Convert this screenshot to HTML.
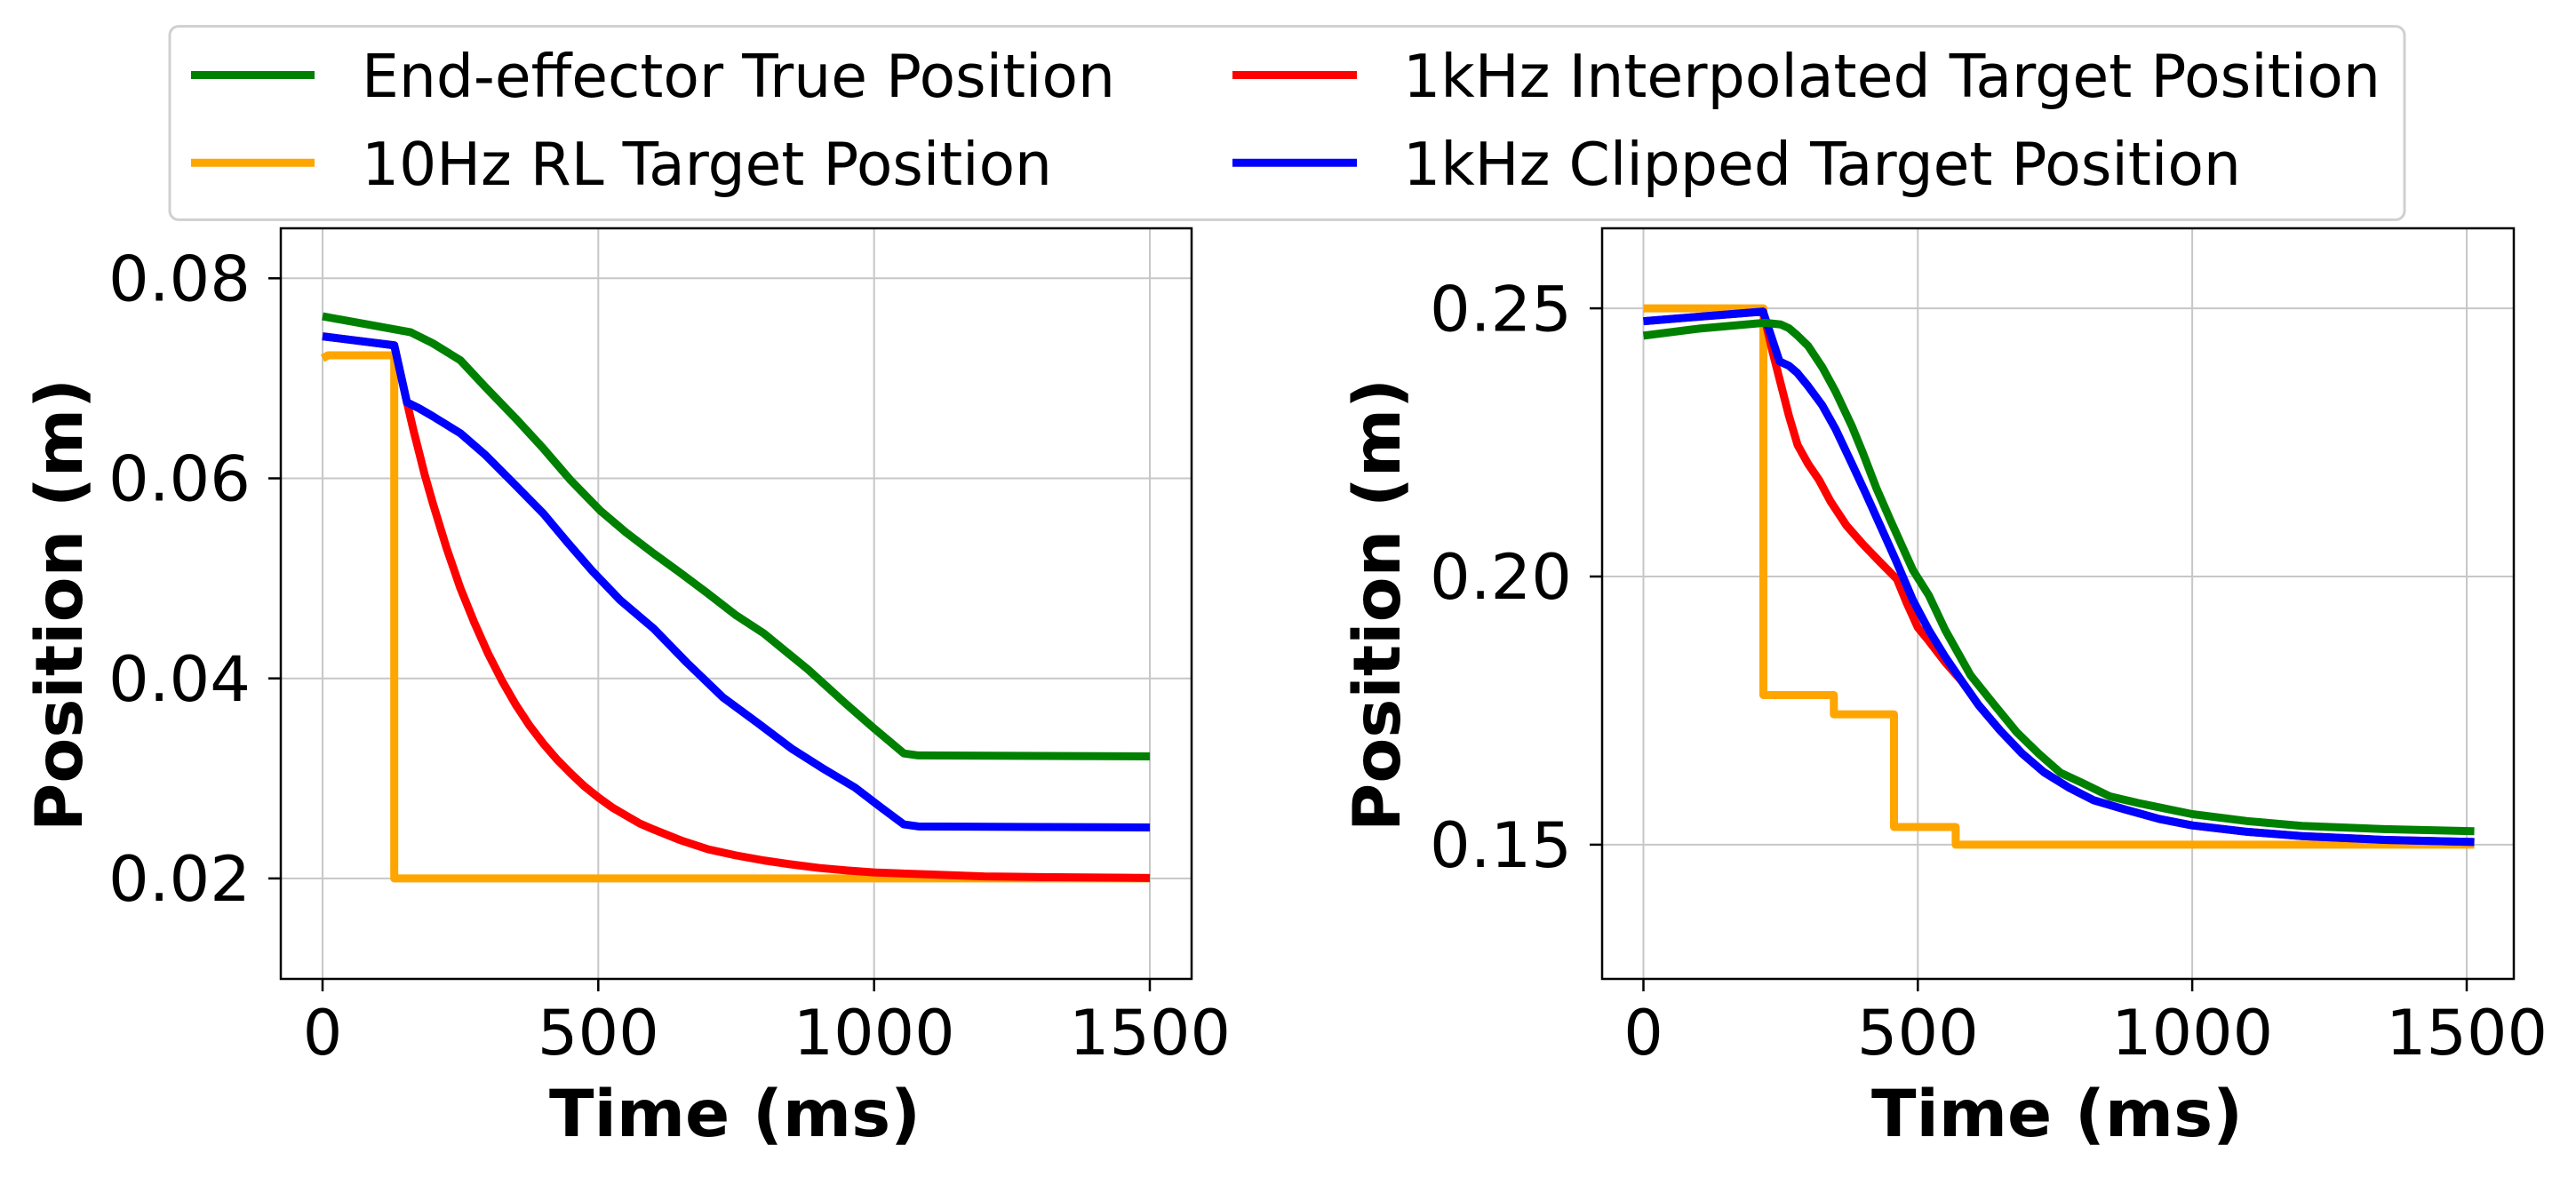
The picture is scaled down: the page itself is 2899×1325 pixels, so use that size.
<!DOCTYPE html>
<html><head><meta charset="utf-8"><style>html,body{margin:0;padding:0;background:#fff}svg{display:block}</style></head>
<body>
<svg width="2899" height="1325" viewBox="0 0 2899 1325" xmlns="http://www.w3.org/2000/svg" font-family="DejaVu Sans, Liberation Sans, sans-serif">
<defs>
<clipPath id="cl"><rect x="316" y="257" width="1025" height="845"/></clipPath>
<clipPath id="cr"><rect x="1803" y="257" width="1026" height="845"/></clipPath>
</defs>
<rect width="2899" height="1325" fill="#fff"/>

<!-- LEFT AXES -->
<g stroke="#b0b0b0" stroke-width="2" opacity="0.7">
<line x1="363" y1="257" x2="363" y2="1102"/><line x1="673.3" y1="257" x2="673.3" y2="1102"/>
<line x1="983.7" y1="257" x2="983.7" y2="1102"/><line x1="1294" y1="257" x2="1294" y2="1102"/>
<line x1="316" y1="313.3" x2="1341" y2="313.3"/><line x1="316" y1="538.5" x2="1341" y2="538.5"/>
<line x1="316" y1="763.7" x2="1341" y2="763.7"/><line x1="316" y1="988.9" x2="1341" y2="988.9"/>
</g>
<g clip-path="url(#cl)" fill="none" stroke-linejoin="round">
<g transform="matrix(0.6207 0 0 -11.26 363 1214.1)">
<polyline vector-effect="non-scaling-stroke" stroke="#ffa500" stroke-width="9" points="0,72.0 10,72.3 130,72.3 130,20 1500,20"/>
<polyline vector-effect="non-scaling-stroke" stroke="#ff0000" stroke-width="9" points="0,74.2 130,73.3 153,67.6 165,64.77 175,62.6 185,60.4 200,57.5 225,53.0 250,49.0 275,45.6 300,42.5 325,39.8 350,37.4 375,35.3 400,33.5 425,31.9 450,30.5 475,29.2 500,28.1 525,27.1 550,26.3 575,25.5 600,24.9 650,23.8 700,22.9 750,22.3 800,21.8 850,21.4 900,21.05 950,20.8 1000,20.6 1100,20.4 1200,20.2 1300,20.14 1500,20.05"/>
<polyline vector-effect="non-scaling-stroke" stroke="#0000ff" stroke-width="9" points="0,74.2 130,73.3 153,67.6 175,67 200,66.2 250,64.5 294,62.4 350,59.3 400,56.5 444,53.6 488,50.8 540,47.8 600,45 660,41.6 726,38.1 790,35.5 850,33 910,30.9 965,29.1 1010,27.2 1054,25.4 1080,25.2 1500,25.1"/>
<polyline vector-effect="non-scaling-stroke" stroke="#008000" stroke-width="9" points="0,76.2 130,74.9 160,74.6 200,73.5 250,71.8 294,69.2 350,66 400,63 450,59.8 503,56.8 550,54.6 600,52.5 650,50.5 696,48.6 750,46.3 800,44.5 880,40.9 950,37.4 1000,35 1054,32.5 1080,32.3 1500,32.2"/>
</g></g>
<rect x="316" y="257" width="1025" height="845" fill="none" stroke="#000" stroke-width="2.5"/>
<g stroke="#000" stroke-width="2.5">
<line x1="302" y1="313.3" x2="316" y2="313.3"/><line x1="302" y1="538.5" x2="316" y2="538.5"/>
<line x1="302" y1="763.7" x2="316" y2="763.7"/><line x1="302" y1="988.9" x2="316" y2="988.9"/>
<line x1="363" y1="1102" x2="363" y2="1116"/><line x1="673.3" y1="1102" x2="673.3" y2="1116"/>
<line x1="983.7" y1="1102" x2="983.7" y2="1116"/><line x1="1294" y1="1102" x2="1294" y2="1116"/>
</g>
<g font-size="70" fill="#000">
<text x="282" y="338.5" text-anchor="end" textLength="160" lengthAdjust="spacingAndGlyphs">0.08</text>
<text x="282" y="563.7" text-anchor="end" textLength="160" lengthAdjust="spacingAndGlyphs">0.06</text>
<text x="282" y="788.9" text-anchor="end" textLength="160" lengthAdjust="spacingAndGlyphs">0.04</text>
<text x="282" y="1014.1" text-anchor="end" textLength="160" lengthAdjust="spacingAndGlyphs">0.02</text>
<text x="363" y="1187" text-anchor="middle">0</text>
<text x="673.3" y="1187" text-anchor="middle" textLength="137" lengthAdjust="spacingAndGlyphs">500</text>
<text x="983.7" y="1187" text-anchor="middle" textLength="182" lengthAdjust="spacingAndGlyphs">1000</text>
<text x="1294" y="1187" text-anchor="middle" textLength="182" lengthAdjust="spacingAndGlyphs">1500</text>
</g>
<text x="827" y="1279" font-size="73" font-weight="bold" text-anchor="middle" textLength="418" lengthAdjust="spacingAndGlyphs">Time (ms)</text>
<text transform="translate(92,681) rotate(-90)" font-size="73" font-weight="bold" text-anchor="middle" textLength="510" lengthAdjust="spacingAndGlyphs">Position (m)</text>

<!-- RIGHT AXES -->
<g stroke="#b0b0b0" stroke-width="2" opacity="0.7">
<line x1="1849.5" y1="257" x2="1849.5" y2="1102"/><line x1="2158.3" y1="257" x2="2158.3" y2="1102"/>
<line x1="2467.1" y1="257" x2="2467.1" y2="1102"/><line x1="2776" y1="257" x2="2776" y2="1102"/>
<line x1="1803" y1="347.1" x2="2829" y2="347.1"/><line x1="1803" y1="649" x2="2829" y2="649"/>
<line x1="1803" y1="950.9" x2="2829" y2="950.9"/>
</g>
<g clip-path="url(#cr)" fill="none" stroke-linejoin="round">
<g transform="matrix(0.6176 0 0 -6.038 1849.5 1856.6)">
<polyline vector-effect="non-scaling-stroke" stroke="#ffa500" stroke-width="9" points="0,250 218.6,250 218.6,177.9 347,177.9 347,174.3 456.6,174.3 456.6,153.3 569,153.3 569,150 1514,150"/>
<polyline vector-effect="non-scaling-stroke" stroke="#ff0000" stroke-width="9" points="0,247.6 218,249.4 235,242 250,236 265,230 281,224.5 300,221 320,218 341,214 370,209.5 400,206 432,202.6 462,199.5 480,195 500,190.5 520,188 550,184 580,180.5 611,176 650,171.3 690,167 730,163.5 776,160.6 820,158.3 880,156.5 940,154.8 1000,153.6 1100,152.4 1200,151.6 1350,150.9 1514,150.5"/>
<polyline vector-effect="non-scaling-stroke" stroke="#0000ff" stroke-width="9" points="0,247.6 218,249.4 248,240.1 265,239.3 280,238 300,235.5 326,231.9 350,227.5 380,221 405,215.5 431,209.6 460,203 491,195.6 520,190 550,185 580,180.5 611,176 650,171.3 690,167 730,163.5 776,160.6 820,158.3 880,156.5 940,154.8 1000,153.6 1100,152.4 1200,151.6 1350,150.9 1514,150.5"/>
<polyline vector-effect="non-scaling-stroke" stroke="#008000" stroke-width="9" points="0,244.9 100,246.2 221,247.3 250,247 265,246.3 280,245 300,243 326,239 350,234.5 380,228 400,223 424,216.6 450,210.5 491,201.2 520,196.5 550,190 596,181.6 640,176 680,171 720,167 760,163.4 800,161.5 850,159 900,157.8 1000,155.7 1100,154.4 1200,153.5 1350,152.9 1514,152.5"/>
</g></g>
<rect x="1803" y="257" width="1026" height="845" fill="none" stroke="#000" stroke-width="2.5"/>
<g stroke="#000" stroke-width="2.5">
<line x1="1789" y1="347.1" x2="1803" y2="347.1"/><line x1="1789" y1="649" x2="1803" y2="649"/>
<line x1="1789" y1="950.9" x2="1803" y2="950.9"/>
<line x1="1849.5" y1="1102" x2="1849.5" y2="1116"/><line x1="2158.3" y1="1102" x2="2158.3" y2="1116"/>
<line x1="2467.1" y1="1102" x2="2467.1" y2="1116"/><line x1="2776" y1="1102" x2="2776" y2="1116"/>
</g>
<g font-size="70" fill="#000">
<text x="1769" y="372.3" text-anchor="end" textLength="160" lengthAdjust="spacingAndGlyphs">0.25</text>
<text x="1769" y="674.2" text-anchor="end" textLength="160" lengthAdjust="spacingAndGlyphs">0.20</text>
<text x="1769" y="976.1" text-anchor="end" textLength="160" lengthAdjust="spacingAndGlyphs">0.15</text>
<text x="1849.5" y="1187" text-anchor="middle">0</text>
<text x="2158.3" y="1187" text-anchor="middle" textLength="137" lengthAdjust="spacingAndGlyphs">500</text>
<text x="2467.1" y="1187" text-anchor="middle" textLength="182" lengthAdjust="spacingAndGlyphs">1000</text>
<text x="2776" y="1187" text-anchor="middle" textLength="182" lengthAdjust="spacingAndGlyphs">1500</text>
</g>
<text x="2315" y="1279" font-size="73" font-weight="bold" text-anchor="middle" textLength="418" lengthAdjust="spacingAndGlyphs">Time (ms)</text>
<text transform="translate(1575,681) rotate(-90)" font-size="73" font-weight="bold" text-anchor="middle" textLength="510" lengthAdjust="spacingAndGlyphs">Position (m)</text>

<!-- LEGEND -->
<rect x="191" y="29.6" width="2515" height="217.8" rx="10" fill="#fff" fill-opacity="0.8" stroke="#d0d0d0" stroke-width="3"/>
<g stroke-width="9">
<line x1="215" y1="84.5" x2="354" y2="84.5" stroke="#008000"/>
<line x1="215" y1="183.3" x2="354" y2="183.3" stroke="#ffa500"/>
<line x1="1387" y1="84.5" x2="1527" y2="84.5" stroke="#ff0000"/>
<line x1="1387" y1="183.3" x2="1527" y2="183.3" stroke="#0000ff"/>
</g>
<g font-size="67" fill="#000">
<text x="407" y="109" textLength="848" lengthAdjust="spacingAndGlyphs">End-effector True Position</text>
<text x="407" y="208" textLength="777" lengthAdjust="spacingAndGlyphs">10Hz RL Target Position</text>
<text x="1579" y="109" textLength="1100" lengthAdjust="spacingAndGlyphs">1kHz Interpolated Target Position</text>
<text x="1579" y="208" textLength="943" lengthAdjust="spacingAndGlyphs">1kHz Clipped Target Position</text>
</g>
</svg>
</body></html>
